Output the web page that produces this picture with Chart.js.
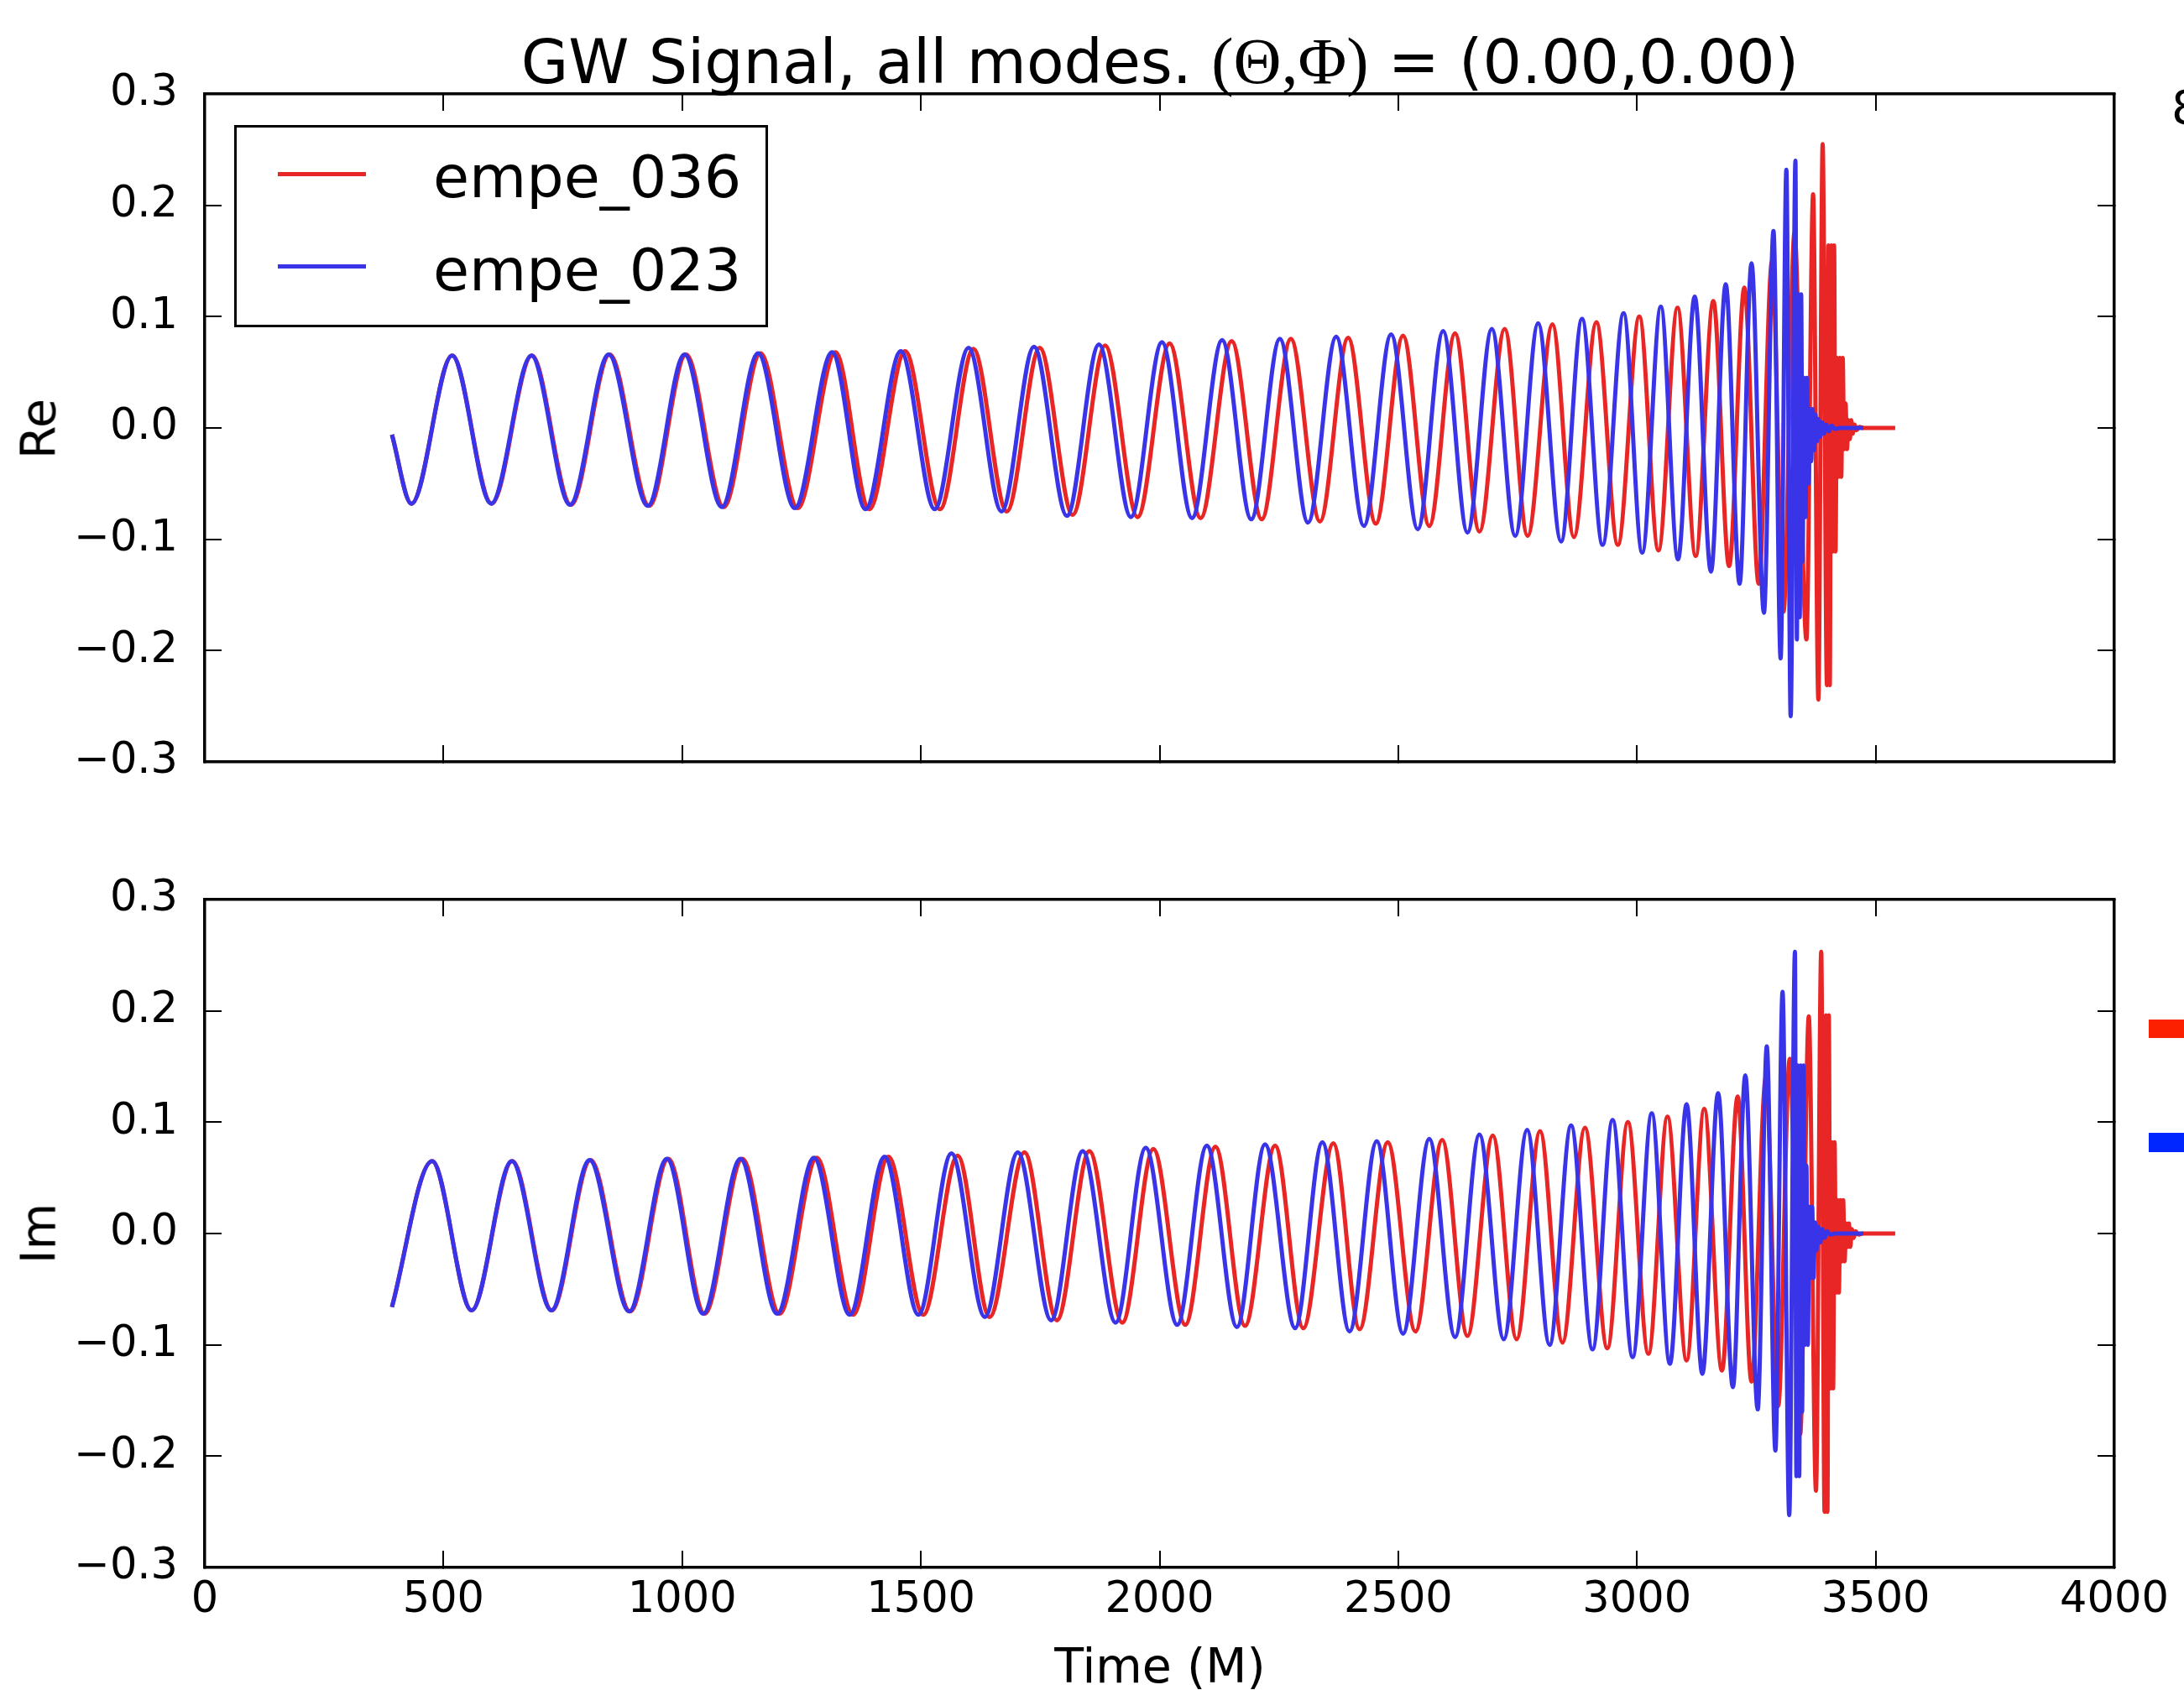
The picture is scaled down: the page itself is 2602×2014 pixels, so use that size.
<!DOCTYPE html>
<html>
<head>
<meta charset="utf-8">
<script src="https://cdn.jsdelivr.net/npm/chart.js@4.4.1/dist/chart.umd.min.js"></script>
<style>
  html, body { margin: 0; padding: 0; background: #fff; }
  body { width: 2602px; height: 2014px; overflow: hidden; position: relative; font-family: "DejaVu Sans", sans-serif; color: #000; }
  canvas { position: absolute; left: 0; }
  #chartRe { top: 0; }
  #chartIm { top: 1000px; }
  .txt { position: absolute; white-space: nowrap; line-height: 1; }
  #title { left: 1382px; top: 33px; font-size: 73px; transform: translateX(-50%); }
  #title .math { font-family: "Liberation Serif", serif; font-size: 79px; }
  .ylab { font-size: 57px; transform: translate(-50%, -50%) rotate(-90deg); }
  #xlab { left: 1382px; top: 1985px; font-size: 57px; transform: translate(-50%, -50%); }
  #legend { position: absolute; left: 279px; top: 149px; width: 636px; height: 241px; border: 3px solid #000; box-sizing: border-box; background: #fff; }
  .legline { position: absolute; left: 331px; width: 105px; height: 5px; }
  .legtxt { left: 516px; font-size: 70px; }
  .mark { position: absolute; left: 2560px; width: 42px; }
</style>
</head>
<body>

<canvas id="chartRe" width="2602" height="1000"></canvas>
<canvas id="chartIm" width="2602" height="1014"></canvas>

<div id="title" class="txt">GW Signal, all modes. <span class="math">(Θ,Φ)</span> = (0.00,0.00)</div>
<div class="txt ylab" style="left:46px; top:511px;">Re</div>
<div class="txt ylab" style="left:46px; top:1470px;">Im</div>
<div id="xlab" class="txt">Time (M)</div>

<div id="legend"></div>
<div class="legline" style="top:205px; background:rgb(232,38,38);"></div>
<div class="legline" style="top:315px; background:rgb(58,52,232);"></div>
<div class="txt legtxt" style="top:176px;">empe_036</div>
<div class="txt legtxt" style="top:287px;">empe_023</div>

<!-- bits of a neighbouring figure that the reference crop cuts through -->
<div class="txt" style="left:2587px; top:100px; font-size:56px;">8</div>
<div class="mark" style="top:1215px; height:22px; background:#fb2000;"></div>
<div class="mark" style="top:1350px; height:23px; background:#0026ff;"></div>

<script>
// axis ticks
const xTicks = [0, 500, 1000, 1500, 2000, 2500, 3000, 3500, 4000];
const yTicks = [-0.3, -0.2, -0.1, 0.0, 0.1, 0.2, 0.3];

// Re, empe_036 (red): times of the turning points
const reTime036 = [392, 433, 518, 601, 685, 767, 848, 931, 1008, 1087, 1164, 1242, 1321, 1392, 1467,
  1540, 1610, 1680, 1749, 1818, 1886, 1954, 2021, 2086, 2151, 2214, 2275, 2336, 2395, 2453, 2510, 2565,
  2619, 2670, 2723, 2771, 2823, 2868, 2915, 2960, 3005, 3045, 3085, 3123, 3160, 3193, 3225, 3255, 3283, 3307, 3330, 3355, 3369, 3380, 3389,
  3398, 3401, 3404, 3407, 3410, 3413, 3416, 3419, 3422, 3425, 3428, 3431, 3434, 3437, 3440, 3443, 3446, 3449, 3452, 3456, 3460, 3466, 3475, 3541];
const reVal036 = [-0.006, -0.068, 0.065, -0.068, 0.065, -0.069, 0.066, -0.070, 0.066, -0.071, 0.067, -0.072, 0.068, -0.073, 0.069,
  -0.073, 0.071, -0.075, 0.072, -0.078, 0.074, -0.080, 0.076, -0.081, 0.078, -0.082, 0.080, -0.084, 0.081, -0.086, 0.083, -0.088,
  0.085, -0.093, 0.089, -0.097, 0.093, -0.098, 0.095, -0.105, 0.100, -0.110, 0.108, -0.115, 0.114, -0.124, 0.126, -0.140, 0.150, -0.165, 0.175, -0.190, 0.210, -0.244, 0.255,
  -0.231, 0.164, -0.231, 0.164, -0.111, 0.164, -0.111, 0.063, -0.044, 0.063, -0.044, 0.063, -0.019, 0.022, -0.019, 0.007, -0.010, 0.007, -0.005, 0.003, -0.002, 0.001, 0, 0];

// Re, empe_023 (blue)
const reTime023 = [392, 433, 518, 600, 684, 765, 846, 928, 1005, 1083, 1159, 1236, 1314, 1384, 1458,
  1529, 1600, 1669, 1737, 1806, 1873, 1940, 2005, 2068, 2131, 2192, 2252, 2311, 2370, 2428, 2485, 2541,
  2594, 2645, 2696, 2745, 2793, 2841, 2885, 2928, 2972, 3011, 3050, 3086, 3121, 3155, 3186, 3215, 3240, 3266, 3286, 3301, 3313, 3322, 3332,
  3335, 3338, 3341, 3344, 3347, 3350, 3353, 3356, 3359, 3362, 3365, 3368, 3371, 3374, 3377, 3380, 3384, 3388, 3392, 3397, 3402, 3408, 3415, 3425, 3474];
const reVal023 = [-0.006, -0.068, 0.065, -0.068, 0.065, -0.069, 0.066, -0.070, 0.066, -0.071, 0.067, -0.072, 0.068, -0.073, 0.069,
  -0.073, 0.072, -0.075, 0.073, -0.079, 0.075, -0.080, 0.077, -0.081, 0.079, -0.082, 0.080, -0.085, 0.082, -0.088, 0.084, -0.091,
  0.087, -0.094, 0.089, -0.097, 0.094, -0.102, 0.098, -0.105, 0.103, -0.112, 0.109, -0.118, 0.118, -0.129, 0.129, -0.140, 0.148, -0.166, 0.177, -0.207, 0.232, -0.259, 0.240,
  -0.19, 0.12, -0.17, 0.12, -0.12, 0.045, -0.08, 0.045, -0.05, 0.017, -0.03, 0.017, -0.02, 0.012, -0.012, 0.008, -0.008, 0.005, -0.005, 0.003, -0.003, 0.002, -0.001, 0, 0];

// Im, empe_036 (red)
const imTime036 = [392, 476, 559, 644, 727, 808, 891, 971, 1047, 1126, 1204, 1282, 1358, 1432, 1505,
  1577, 1644, 1717, 1785, 1853, 1922, 1987, 2054, 2117, 2179, 2242, 2301, 2364, 2419, 2478, 2536,
  2592, 2645, 2698, 2748, 2797, 2844, 2891, 2938, 2981, 3024, 3064, 3104, 3141, 3178, 3211, 3240, 3270, 3296, 3320, 3342, 3360, 3375, 3386,
  3393, 3396, 3399, 3402, 3405, 3408, 3411, 3414, 3417, 3420, 3423, 3426, 3429, 3432, 3435, 3438, 3441, 3444, 3447, 3450, 3454, 3458, 3464, 3472, 3541];
const imVal036 = [-0.066, 0.065, -0.069, 0.065, -0.069, 0.066, -0.070, 0.067, -0.072, 0.067, -0.072, 0.068, -0.073, 0.069, -0.073,
  0.070, -0.075, 0.073, -0.078, 0.074, -0.080, 0.076, -0.082, 0.078, -0.083, 0.079, -0.085, 0.081, -0.086, 0.082, -0.088,
  0.084, -0.092, 0.088, -0.095, 0.092, -0.098, 0.095, -0.103, 0.100, -0.108, 0.105, -0.114, 0.112, -0.123, 0.123, -0.133, 0.140, -0.155, 0.157, -0.180, 0.195, -0.231, 0.253,
  -0.250, 0.196, -0.250, 0.196, -0.139, 0.082, -0.139, 0.082, -0.053, 0.030, -0.053, 0.030, -0.025, 0.030, -0.025, 0.009, -0.012, 0.009, -0.012, 0.004, -0.004, 0.002, -0.001, 0, 0];

// Im, empe_023 (blue)
const imTime023 = [392, 476, 559, 643, 726, 806, 889, 968, 1044, 1122, 1199, 1276, 1351, 1424, 1495,
  1564, 1634, 1703, 1773, 1839, 1908, 1971, 2037, 2099, 2162, 2221, 2284, 2341, 2398, 2455, 2510, 2565,
  2619, 2670, 2721, 2770, 2817, 2862, 2907, 2949, 2991, 3031, 3069, 3104, 3137, 3170, 3201, 3227, 3253, 3272, 3290, 3305, 3319, 3331,
  3334, 3337, 3340, 3343, 3346, 3349, 3352, 3355, 3358, 3361, 3364, 3367, 3370, 3373, 3376, 3380, 3384, 3388, 3393, 3398, 3405, 3415, 3474];
const imVal023 = [-0.066, 0.065, -0.069, 0.065, -0.069, 0.066, -0.070, 0.067, -0.072, 0.067, -0.072, 0.068, -0.073, 0.069, -0.073,
  0.072, -0.075, 0.073, -0.078, 0.074, -0.080, 0.077, -0.082, 0.079, -0.084, 0.080, -0.085, 0.082, -0.088, 0.083, -0.090, 0.085,
  -0.093, 0.089, -0.095, 0.093, -0.100, 0.097, -0.104, 0.102, -0.111, 0.108, -0.117, 0.116, -0.126, 0.126, -0.138, 0.142, -0.158, 0.168, -0.195, 0.217, -0.253, 0.253,
  -0.218, 0.151, -0.218, 0.151, -0.16, 0.151, -0.10, 0.061, -0.10, 0.024, -0.04, 0.024, -0.04, 0.01, -0.015, 0.006, -0.008, 0.004, -0.004, 0.002, -0.001, 0, 0];

const RED = "rgb(232,38,38)";
const BLUE = "rgb(58,52,232)";
const FONT = { family: "DejaVu Sans", size: 51 };

function points(t, v) {
  return t.map((x, i) => ({ x: x, y: v[i] }));
}

function formatY(v) {
  if (Math.abs(v) < 1e-9) return "0.0";
  return (v < 0 ? "\u2212" : "") + Math.abs(v).toFixed(1);
}

function setTicks(list) {
  return function(scale) {
    scale.ticks = list.map(v => ({ value: v }));
  };
}

// fixed axis sizes so both plot areas line up exactly
function fixSize(w, h) {
  return function(s) {
    if (w !== null) s.width = w;
    if (h !== null) s.height = h;
    s.paddingLeft = 0;
    s.paddingRight = 0;
    s.paddingTop = 0;
    s.paddingBottom = 0;
  };
}

function makeChart(id, t036, v036, t023, v023, showX, padTop, padBottom) {
  const border = { display: true, color: "#000", width: 3.5 };
  const grid = { drawOnChartArea: false, drawTicks: true, tickLength: -20, color: "#000", lineWidth: 2 };

  return new Chart(document.getElementById(id), {
    type: "line",
    data: {
      datasets: [
        { label: "empe_036", data: points(t036, v036), borderColor: RED, order: 1 },
        { label: "empe_023", data: points(t023, v023), borderColor: BLUE, order: 0 }
      ]
    },
    options: {
      responsive: false,
      animation: false,
      devicePixelRatio: 1,
      layout: { padding: { left: 0, right: 83, top: padTop, bottom: padBottom } },
      elements: {
        line: { borderWidth: 5, cubicInterpolationMode: "monotone", fill: false },
        point: { radius: 0 }
      },
      plugins: { legend: { display: false }, tooltip: { enabled: false }, title: { display: false } },
      scales: {
        x: {
          type: "linear", position: "bottom", min: 0, max: 4000,
          afterBuildTicks: setTicks(xTicks),
          ticks: { display: showX, font: FONT, color: "#000", padding: 29, maxRotation: 0, autoSkip: false, callback: v => String(v) },
          grid: grid, border: border,
          afterFit: fixSize(null, showX ? 100 : 0)
        },
        x2: {
          type: "linear", position: "top", min: 0, max: 4000,
          afterBuildTicks: setTicks(xTicks),
          ticks: { display: false },
          grid: grid, border: border,
          afterFit: fixSize(null, 0)
        },
        y: {
          type: "linear", position: "left", min: -0.3, max: 0.3,
          afterBuildTicks: setTicks(yTicks),
          ticks: { font: FONT, color: "#000", padding: 52, callback: formatY },
          grid: grid, border: border,
          afterFit: fixSize(244, null)
        },
        y2: {
          type: "linear", position: "right", min: -0.3, max: 0.3,
          afterBuildTicks: setTicks(yTicks),
          ticks: { display: false },
          grid: grid, border: border,
          afterFit: fixSize(0, null)
        }
      }
    }
  });
}

makeChart("chartRe", reTime036, reVal036, reTime023, reVal023, false, 112, 92);
makeChart("chartIm", imTime036, imVal036, imTime023, imVal023, true, 72, 46);
</script>
</body>
</html>
